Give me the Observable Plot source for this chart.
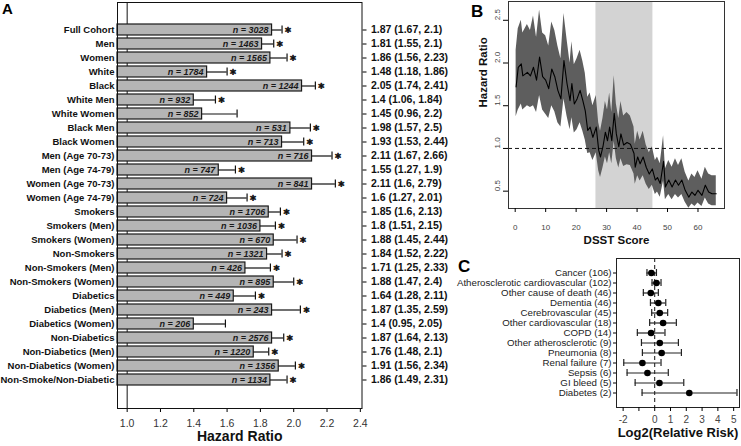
<!DOCTYPE html>
<html><head><meta charset="utf-8">
<script src="https://cdn.jsdelivr.net/npm/d3@7"></script>
<script src="https://cdn.jsdelivr.net/npm/@observablehq/plot@0.6"></script>
<style>
body{margin:0;background:#fff;font-family:"Liberation Sans",Arial,sans-serif;}
#wrap{position:relative;width:741px;height:446px;overflow:hidden;background:#fff;}
#wrap > svg{position:absolute;}
</style></head><body><div id="wrap"></div>
<script>
// ---------- Panel A data ----------
const groups = ["Full Cohort","Men","Women","White","Black","White Men","White Women","Black Men","Black Women","Men (Age 70-73)","Men (Age 74-79)","Women (Age 70-73)","Women (Age 74-79)","Smokers","Smokers (Men)","Smokers (Women)","Non-Smokers","Non-Smokers (Men)","Non-Smokers (Women)","Diabetics","Diabetics (Men)","Diabetics (Women)","Non-Diabetics","Non-Diabetics (Men)","Non-Diabetics (Women)","Non-Smoke/Non-Diabetic"];
const groupN = [3028,1463,1565,1784,1244,932,852,531,713,716,747,841,724,1706,1036,670,1321,426,895,449,243,206,2576,1220,1356,1134];
const groupHR = [1.87,1.81,1.86,1.48,2.05,1.4,1.45,1.98,1.93,2.11,1.55,2.11,1.6,1.85,1.8,1.88,1.84,1.71,1.88,1.64,1.87,1.4,1.87,1.76,1.91,1.86];
const groupLo = [1.67,1.55,1.56,1.18,1.74,1.06,0.96,1.57,1.53,1.67,1.27,1.6,1.27,1.6,1.51,1.45,1.52,1.25,1.47,1.28,1.35,0.95,1.64,1.48,1.56,1.49];
const groupHi = [2.1,2.1,2.23,1.86,2.41,1.84,2.2,2.5,2.44,2.66,1.9,2.79,2.01,2.13,2.15,2.44,2.22,2.33,2.4,2.11,2.59,2.05,2.13,2.1,2.34,2.31];
const groupWhisker = [1.93,1.88,1.96,1.60,2.13,1.53,1.66,2.10,2.06,2.23,1.65,2.25,1.72,1.92,1.89,2.02,1.93,1.86,2.00,1.77,2.04,1.59,1.94,1.85,2.01,1.96];
const xTicksA = [1.0,1.2,1.4,1.6,1.8,2.0,2.2,2.4];

// ---------- Panel B data ----------
const dsst = [0.3,1,2,2.5,4,5,6,7,8,9,10,11,12,13,14,15,16,17,18,18.6,19.4,20.3,21.3,22.2,23,23.8,24.6,25.5,26.6,27.4,28,28.8,29.6,30.3,31,31.7,32.5,33.2,34,34.7,35.6,36.7,37.8,39,39.4,40.2,41,42,43,44,45,46,46.7,47.6,48.7,49.3,50.4,51.5,52.6,53.6,54.7,55.8,57,58,59,60,61.3,62.4,63.5,64.6,66];
const trendHR = [1.72,1.95,1.99,1.85,1.89,1.85,1.95,1.80,2.07,1.84,1.80,1.70,1.93,1.84,1.68,1.58,2.03,1.76,1.56,1.76,1.52,1.58,1.68,1.56,1.44,1.21,1.25,1.13,1.25,0.98,0.90,1.02,1.19,1.09,1.25,1.09,1.41,1.17,1.02,1.17,1.04,1.07,1.05,0.94,0.78,0.90,0.82,0.90,0.78,0.70,0.76,0.63,0.66,0.59,0.85,0.55,0.63,0.55,0.63,0.57,0.63,0.51,0.43,0.49,0.45,0.51,0.45,0.57,0.49,0.47,0.47];
const trendLo = [1.37,1.45,1.52,1.45,1.50,1.48,1.50,1.42,1.62,1.45,1.40,1.35,1.50,1.43,1.30,1.25,1.58,1.38,1.22,1.36,1.18,1.22,1.30,1.20,1.10,0.94,0.95,0.86,0.95,0.74,0.66,0.77,0.90,0.82,0.95,0.82,1.08,0.88,0.77,0.88,0.79,0.81,0.80,0.70,0.58,0.68,0.62,0.68,0.58,0.52,0.57,0.46,0.49,0.43,0.62,0.40,0.46,0.40,0.46,0.42,0.46,0.37,0.30,0.35,0.32,0.36,0.32,0.42,0.35,0.33,0.33];
const trendHi = [2.15,2.40,2.50,2.35,2.45,2.38,2.55,2.30,2.62,2.35,2.32,2.20,2.48,2.38,2.20,2.05,2.58,2.28,2.00,2.25,1.98,2.05,2.15,2.02,1.88,1.60,1.65,1.50,1.62,1.30,1.20,1.35,1.55,1.45,1.65,1.42,1.85,1.52,1.35,1.55,1.38,1.42,1.38,1.25,1.05,1.20,1.10,1.20,1.04,0.95,1.02,0.86,0.90,0.82,1.15,0.76,0.86,0.78,0.88,0.80,0.88,0.72,0.62,0.70,0.66,0.74,0.64,0.78,0.70,0.68,0.68];
const shadeRange = [26.5, 45.2];
const xTicksB = [0,10,20,30,40,50,60];
const yTicksB = [0.5,1.0,1.5,2.0,2.5];

// ---------- Panel C data ----------
const causes = ["Cancer (106)","Atherosclerotic cardiovascular (102)","Other cause of death (46)","Dementia (46)","Cerebrovascular (45)","Other cardiovascular (18)","COPD (14)","Other atherosclerotic (9)","Pneumonia (8)","Renal failure (7)","Sepsis (6)","GI bleed (5)","Diabetes (2)"];
const causeEst = [-0.21,0.11,-0.25,0.23,0.32,0.53,-0.23,0.32,0.44,-0.78,-0.46,0.30,2.19];
const causeLo = [-0.49,-0.17,-0.72,-0.27,-0.19,-0.32,-1.10,-0.84,-0.78,-1.96,-1.75,-1.24,-0.80];
const causeHi = [0.11,0.40,0.23,0.70,0.82,1.37,0.65,1.50,1.69,0.40,0.86,1.84,5.21];
const xTicksC = [-2,-1,0,1,2,3,4,5];
const xTickLabelsC = ["-2","","0","1","2","3","4","5"];

const FONT = '"Liberation Sans", Arial, sans-serif';
const wrap = document.getElementById("wrap");

// ---------- Panel A ----------
const xMinA = 0.942, xMaxA = 2.41;
const rowsA = groups.map((g,i)=>({g, n: groupN[i], hr: groupHR[i], lo: groupLo[i], hi: groupHi[i], w: groupWhisker[i]}));
const labelA = new Map(rowsA.map(d=>[d.g, `${d.hr} (${d.lo}, ${d.hi})`]));
const plotA = Plot.plot({
  width: 450, height: 446, marginLeft: 117, marginRight: 88.5, marginTop: 2, marginBottom: 38,
  style: {fontFamily: FONT, background: "transparent", overflow: "visible"},
  x: {domain: [xMinA, xMaxA]},
  y: {type: "band", domain: groups, padding: 0.2, insetTop: 7.5, insetBottom: 7.5},
  marks: [
    Plot.ruleX([1], {stroke: "#111", strokeWidth: 1}),
    Plot.barX(rowsA, {x1: xMinA, x2: "hr", y: "g", fill: "#b5b5b5", stroke: "#1a1a1a", strokeWidth: 1.2}),
    Plot.ruleY(rowsA, {x1: "hr", x2: "w", y: "g", stroke: "#111", strokeWidth: 1.2}),
    Plot.tickX(rowsA, {x: "w", y: "g", stroke: "#111", strokeWidth: 1.2, insetTop: 1.5, insetBottom: 1.5}),
    Plot.text(rowsA, {x: "hr", y: "g", text: d => `n = ${d.n}`, textAnchor: "end", dx: -3.5, fontSize: 9, fontWeight: "bold", fontStyle: "italic", fill: "#1a1a1a"}),
    Plot.text(rowsA.filter(d => d.lo > 1), {x: "w", y: "g", text: () => "*", textAnchor: "start", dx: 3, dy: 2.8, fontFamily: "DejaVu Sans", fontSize: 11.5, fontWeight: "bold", fill: "#111", stroke: "#111", strokeWidth: 0.6}),
    Plot.text(rowsA, {y: "g", text: "g", frameAnchor: "left", textAnchor: "end", dx: -3, fontSize: 9.5, fontWeight: "bold", fill: "#111"}),
    Plot.axisY({anchor: "right", tickSize: 4, tickPadding: 5, tickFormat: d => labelA.get(d), fontSize: 10.5, fontWeight: "bold", fill: "#111", label: null}),
    Plot.axisX({ticks: xTicksA, tickFormat: d => d.toFixed(1), tickSize: 4, tickPadding: 7, fontSize: 10.5, fill: "#333", label: null}),
    Plot.frame({stroke: "#111"}),
    Plot.text(["Hazard Ratio"], {text: d => d, frameAnchor: "bottom", dy: 32.5, fontSize: 14, fontWeight: "bold", fill: "#111"})
  ]
});
plotA.style.left = "0px"; plotA.style.top = "0px";
wrap.appendChild(plotA);

// ---------- Panel B ----------
const trendB = dsst.map((s,i)=>({s, hr: trendHR[i], lo: trendLo[i], hi: trendHi[i]}));
const plotB = Plot.plot({
  width: 271, height: 250, marginLeft: 38, marginRight: 17, marginTop: 1, marginBottom: 42,
  style: {fontFamily: FONT, background: "transparent", overflow: "visible"},
  x: {domain: [-2.2, 68.7]},
  y: {domain: [0.297, 2.72]},
  marks: [
    Plot.rect([shadeRange], {x1: d => d[0], x2: d => d[1], fill: "#d3d3d3"}),
    Plot.areaY(trendB, {x: "s", y1: "lo", y2: "hi", fill: "#5e5e5e"}),
    Plot.ruleY([1], {stroke: "#111", strokeDasharray: "4,3"}),
    Plot.line(trendB, {x: "s", y: "hr", stroke: "#000", strokeWidth: 1.1}),
    Plot.frame({stroke: "#333"}),
    Plot.axisY({ticks: yTicksB, tickSize: 5, tickFormat: () => "", label: null}),
    Plot.text(yTicksB, {y: d => d, text: d => d.toFixed(1), frameAnchor: "left", rotate: -90, dx: -11, fontSize: 8, fill: "#444"}),
    Plot.axisX({ticks: xTicksB, tickSize: 4, tickPadding: 12, fontSize: 8, fill: "#444", label: null}),
    Plot.text(["Hazard Ratio"], {text: d => d, frameAnchor: "left", rotate: -90, dx: -25, dy: 2.5, fontSize: 11.5, fontWeight: "bold", fill: "#111"}),
    Plot.text(["DSST Score"], {text: d => d, frameAnchor: "bottom", dy: 35, fontSize: 11.5, fontWeight: "bold", fill: "#111"})
  ]
});
plotB.style.left = "470px"; plotB.style.top = "0px";
wrap.appendChild(plotB);

// ---------- Panel C ----------
const rowsC = causes.map((c,i)=>({c, est: causeEst[i], lo: causeLo[i], hi: causeHi[i]}));
const labelC = new Map(xTicksC.map((t,i)=>[t, xTickLabelsC[i]]));
const plotC = Plot.plot({
  width: 301, height: 196, marginLeft: 176, marginRight: 2, marginTop: 8, marginBottom: 39,
  style: {fontFamily: FONT, background: "transparent", overflow: "visible"},
  x: {domain: [-2.42, 5.37]},
  y: {type: "band", domain: causes, paddingInner: 0.35, paddingOuter: 0.57},
  marks: [
    Plot.ruleX([0], {stroke: "#111", strokeDasharray: "4,3"}),
    Plot.ruleY(rowsC, {x1: "lo", x2: "hi", y: "c", stroke: "#222", strokeWidth: 1.2}),
    Plot.tickX(rowsC, {x: "lo", y: "c", stroke: "#222", strokeWidth: 1.2}),
    Plot.tickX(rowsC, {x: "hi", y: "c", stroke: "#222", strokeWidth: 1.2}),
    Plot.dot(rowsC, {x: "est", y: "c", r: 3.3, fill: "#000"}),
    Plot.frame({stroke: "#222"}),
    Plot.axisY({tickSize: 3, tickPadding: 2, fontSize: 9.7, fill: "#222", label: null}),
    Plot.axisX({ticks: xTicksC, tickFormat: d => labelC.get(d), tickSize: 4, tickPadding: 4, fontSize: 10, fill: "#444", label: null}),
    Plot.text(["Log2(Relative Risk)"], {text: d => d, frameAnchor: "bottom", dy: 29, fontSize: 13, fontWeight: "bold", fill: "#111"})
  ]
});
plotC.style.left = "440px"; plotC.style.top = "250px";
wrap.appendChild(plotC);

// ---------- Panel letters ----------
const ns = "http://www.w3.org/2000/svg";
const over = document.createElementNS(ns, "svg");
over.setAttribute("width", 741); over.setAttribute("height", 446);
over.style.left = "0px"; over.style.top = "0px"; over.style.pointerEvents = "none";
[["A",2,14,15],["B",471,16.5,17],["C",458,271.5,17]].forEach(([t,x,y,s])=>{
  const el = document.createElementNS(ns, "text");
  el.setAttribute("x", x); el.setAttribute("y", y);
  el.setAttribute("font-size", s); el.setAttribute("font-weight", "bold");
  el.setAttribute("font-family", FONT); el.setAttribute("fill", "#000");
  el.textContent = t; over.appendChild(el);
});
wrap.appendChild(over);
</script>
</body></html>
